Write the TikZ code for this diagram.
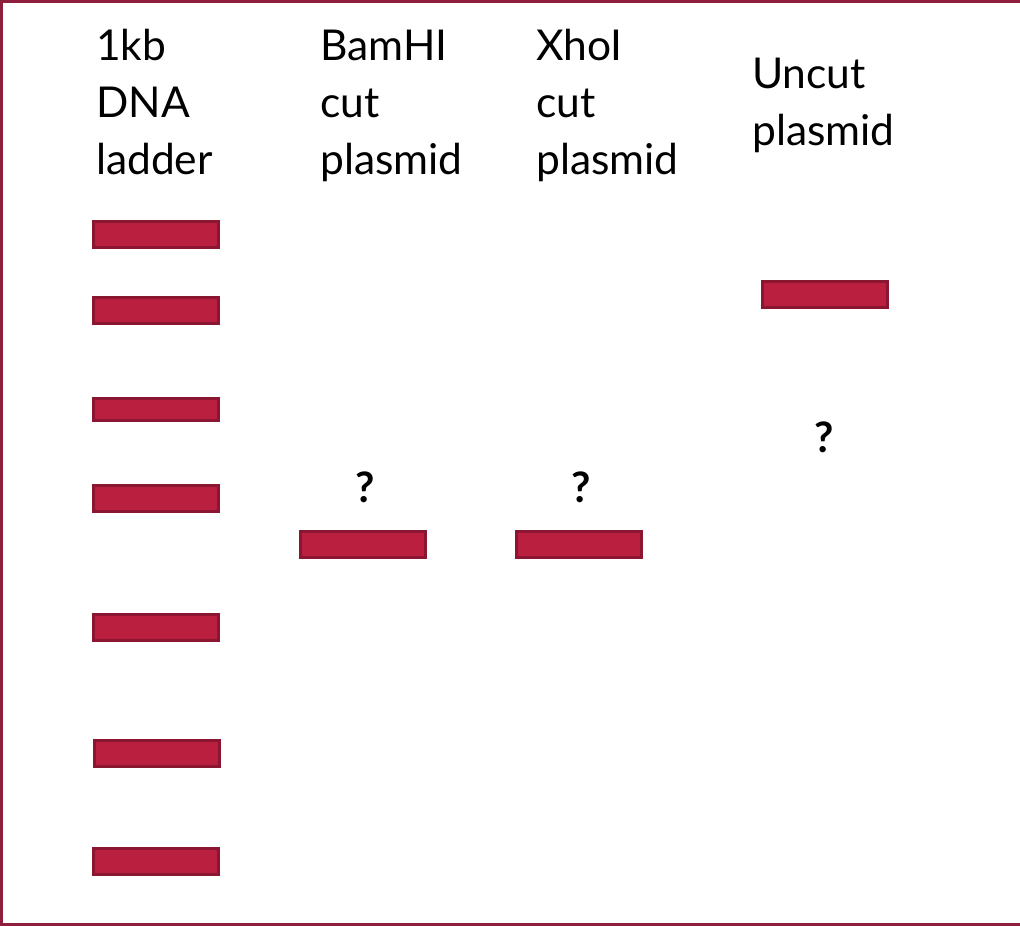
\documentclass[tikz,border=0pt]{standalone}
\usepackage{fontspec}
\setmainfont{Lato}
\definecolor{bandfill}{HTML}{BA1F40}
\definecolor{bandedge}{HTML}{8A1631}
\definecolor{frame}{HTML}{8E1F3C}
\tikzset{
  band/.style={rectangle, fill=bandfill, draw=bandedge, line width=3pt, minimum width=125pt, minimum height=26pt, inner sep=0pt, anchor=north west},
  lbl/.style={anchor=base west, inner sep=0pt, font=\fontsize{42.5}{57}\selectfont, align=left},
  qm/.style={anchor=base, inner sep=0pt, font=\bfseries\fontsize{42}{48}\selectfont}
}
\begin{document}
\begin{tikzpicture}[x=1pt,y=-1pt]
\useasboundingbox (0,0) rectangle (1020,926);
\draw[frame, line width=2.5pt] (1020,1.5) -- (1.5,1.5) -- (1.5,924.5) -- (1020,924.5);
% labels
\node[lbl] (t1a) at (96,60) {1kb};
\node[lbl] (t1b) at (96,117) {DNA};
\node[lbl] (t1c) at (96,174) {ladder};
\node[lbl] (t2a) at (320,60) {BamHI};
\node[lbl] (t2b) at (320,117) {cut};
\node[lbl] (t2c) at (320,174) {plasmid};
\node[lbl] (t3a) at (536,60) {XhoI};
\node[lbl] (t3b) at (536,117) {cut};
\node[lbl] (t3c) at (536,174) {plasmid};
\node[lbl] (t4a) at (752,88) {Uncut};
\node[lbl] (t4b) at (752,145) {plasmid};
% ladder bands
\node[band] (l1) at (92,220) {};
\node[band] (l2) at (92,296) {};
\node[band, minimum height=22pt] (l3) at (92,397) {};
\node[band] (l4) at (92,484) {};
\node[band] (l5) at (92,613) {};
\node[band] (l6) at (93,739) {};
\node[band] (l7) at (92,847) {};
% sample bands
\node[band] (b1) at (299,530) {};
\node[band] (b2) at (515,530) {};
\node[band] (b3) at (761,280) {};
% question marks
\node[qm] (q1) at (365,502) {?};
\node[qm] (q2) at (581,502) {?};
\node[qm] (q3) at (824,452) {?};
\end{tikzpicture}
\end{document}
